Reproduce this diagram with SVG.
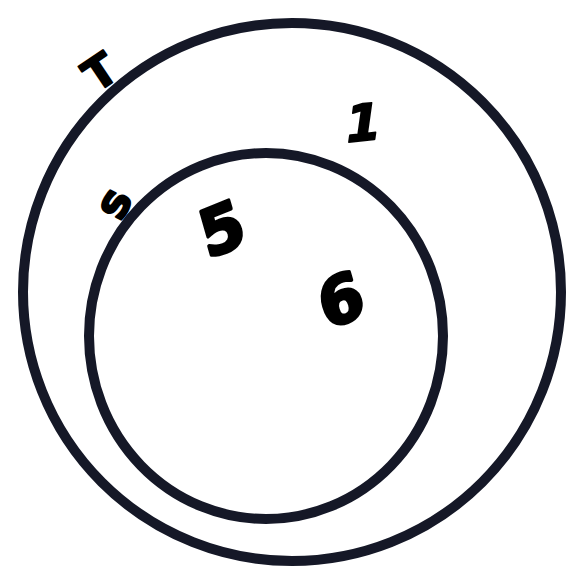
<svg xmlns="http://www.w3.org/2000/svg" width="588" height="587" viewBox="0 0 588 587">
<style>
.ring{fill:none;stroke:#151827;stroke-width:10}
.lbl{font-family:"DejaVu Sans",sans-serif;font-weight:bold;fill:#000;stroke:#000;stroke-width:2;stroke-linejoin:round}
.big{stroke-width:3.5}
</style>
<rect width="588" height="587" fill="#fff"/>
<g id="T">
<circle class="ring" cx="292" cy="292" r="269"/>
<text class="lbl" font-size="44" transform="translate(100,72) rotate(-34)" text-anchor="middle" dominant-baseline="central">T</text>
</g>
<g id="S">
<ellipse class="ring" cx="266" cy="336" rx="177" ry="183"/>
<text class="lbl" font-size="46" transform="translate(113,203) rotate(-62)" text-anchor="middle" dominant-baseline="central">s</text>
</g>
<g id="e1"><text class="lbl" font-size="50" transform="translate(363,123) rotate(-6) skewX(-14)" text-anchor="middle" dominant-baseline="central">1</text></g>
<g id="e5"><text class="lbl big" font-size="64" transform="translate(222,229) rotate(-22) skewX(-6)" text-anchor="middle" dominant-baseline="central">5</text></g>
<g id="e6"><text class="lbl big" font-size="64" transform="translate(341,300) rotate(-22) skewX(-6)" text-anchor="middle" dominant-baseline="central">6</text></g>
</svg>
